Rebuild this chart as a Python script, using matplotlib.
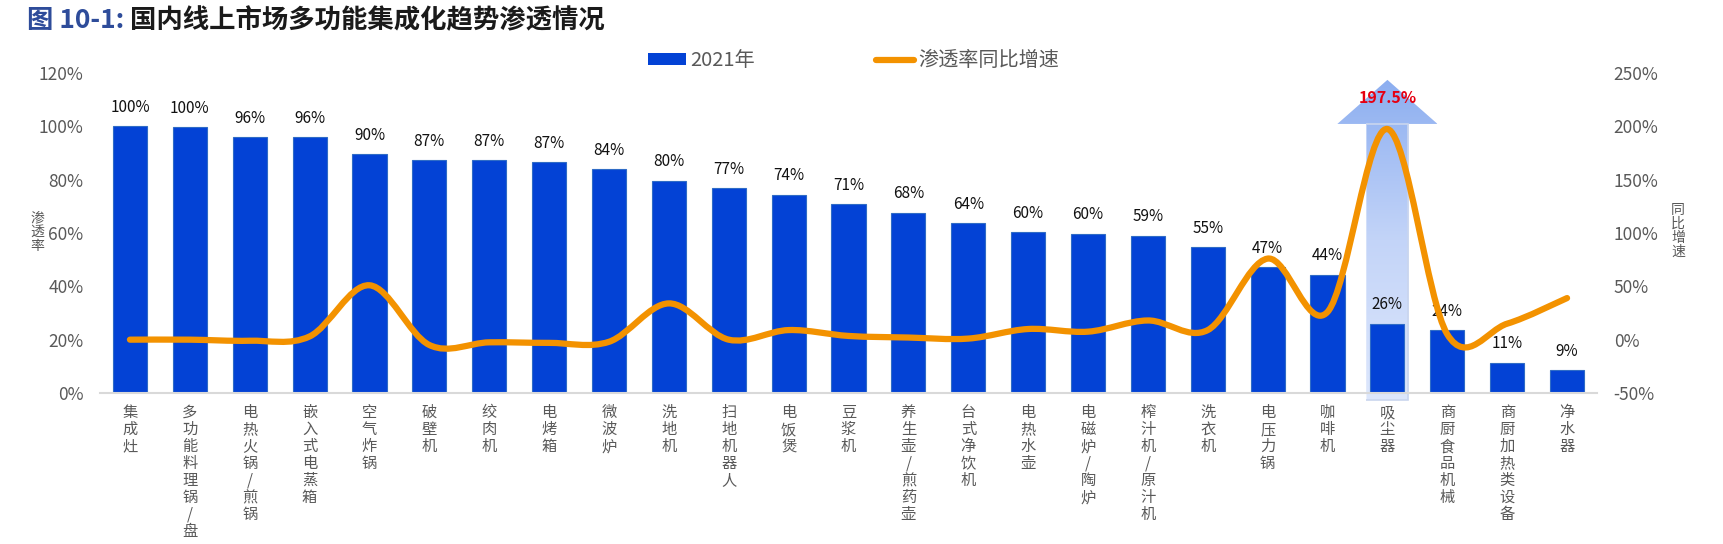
import matplotlib
matplotlib.use('Agg')
import matplotlib.pyplot as plt
import numpy as np
from matplotlib.path import Path
from matplotlib.patches import PathPatch, Polygon, Patch
from matplotlib.lines import Line2D
from matplotlib.ticker import FuncFormatter, MultipleLocator
from matplotlib.colors import LinearSegmentedColormap

plt.rcParams['font.family'] = ['Noto Sans CJK SC', 'DejaVu Sans']
plt.rcParams['axes.unicode_minus'] = False

# ---------------- data ----------------
categories = ['集成灶', '多功能料理锅/盘', '电热火锅/煎锅', '嵌入式电蒸箱', '空气炸锅', '破壁机',
              '绞肉机', '电烤箱', '微波炉', '洗地机', '扫地机器人', '电饭煲', '豆浆机',
              '养生壶/煎药壶', '台式净饮机', '电热水壶', '电磁炉/陶炉', '榨汁机/原汁机',
              '洗衣机', '电压力锅', '咖啡机', '吸尘器', '商厨食品机械', '商厨加热类设备', '净水器']
penetration_2021 = [100.0, 99.6, 95.9, 95.9, 89.6, 87.4, 87.2, 86.6, 83.9, 79.6, 76.7, 74.4, 70.9,
                    67.6, 63.6, 60.4, 59.8, 59.0, 54.6, 47.1, 44.4, 26.0, 23.6, 11.4, 8.6]
yoy_growth = [0, 0, -1, 3, 51, -5, -2.5, -3, -2, 34, 0, 9, 3.5,
              2, 1, 10, 7.5, 18, 9, 76, 26, 197.5, 5, 15, 39]
series_names = ['2021年', '渗透率同比增速']
title_prefix = '图 10-1: '
title_main = '国内线上市场多功能集成化趋势渗透情况'
left_label = '渗透率'
right_label = '同比增速'

# ---------------- style ----------------
BAR_C = '#0342D5'
BAR_EDGE = '#2F6CC6'
LINE_C = '#F39200'
GREY = '#595959'

W, H = 1724, 544
fig = plt.figure(figsize=(W / 100, H / 100), dpi=100)
ax = fig.add_axes([100 / W, 1 - 393 / H, 1497 / W, 320 / H])
ax2 = ax.twinx()

x = np.arange(len(categories))

# highlight arrow behind the max-growth category
hi = int(np.argmax(yoy_growth))
sw, hw = 0.35, 0.835
y_bot, y_base, y_tip = -2.6, 100.9, 117.4
arrow_pts = [(hi - sw, y_bot), (hi + sw, y_bot), (hi + sw, y_base), (hi + hw, y_base),
             (hi, y_tip), (hi - hw, y_base), (hi - sw, y_base)]
base_poly = Polygon(arrow_pts, closed=True, facecolor='#DCE6FB', edgecolor='none',
                    zorder=0.5, clip_on=False)
ax.add_patch(base_poly)
clip_poly = Polygon(arrow_pts, closed=True, facecolor='none', edgecolor='none', zorder=0.5)
ax.add_patch(clip_poly)
grad = np.linspace(0, 1, 256).reshape(-1, 1)
cmap = LinearSegmentedColormap.from_list('arr', ['#DDE7FC', '#C3D4F8', '#8CAEF0'])
im = ax.imshow(grad, extent=(hi - hw, hi + hw, y_bot, y_tip), origin='lower',
               cmap=cmap, aspect='auto', zorder=0.6, interpolation='bilinear')
im.set_clip_path(clip_poly)
outline = Polygon(arrow_pts[:3] + [arrow_pts[6]], closed=False, facecolor='none',
                  edgecolor='#C9D5EE', lw=1.2, zorder=0.7, clip_on=False)
ax.add_patch(outline)

# bars
ax.bar(x, penetration_2021, width=0.57, color=BAR_C, edgecolor=BAR_EDGE,
       linewidth=0.8, zorder=2, label=series_names[0])
for xi, v in zip(x, penetration_2021):
    ax.annotate(f'{v:.0f}%', (xi, v), xytext=(0, 7.5), textcoords='offset points',
                ha='center', va='bottom', fontsize=11, color='#111111', zorder=3)

ax.set_xlim(-0.5, len(categories) - 0.5)
ax.set_ylim(0, 120)
ax.yaxis.set_major_locator(MultipleLocator(20))
ax.yaxis.set_major_formatter(FuncFormatter(lambda v, p: f'{int(round(v))}%'))
ax.set_xticks(x)
ax.set_xticklabels(['\n'.join(list(c)) for c in categories], fontsize=11,
                   color=GREY, va='top', linespacing=1.0)
ax.tick_params(axis='x', length=0, pad=8)
ax.tick_params(axis='y', length=0, pad=12, labelsize=12.5, labelcolor=GREY)

# smooth line (Catmull-Rom style Bezier through the data points)
def smooth_path(xs, ys):
    pts = np.column_stack([xs, ys]).astype(float)
    n = len(pts)
    verts = [pts[0]]
    codes = [Path.MOVETO]
    for i in range(n - 1):
        p0 = pts[i - 1] if i > 0 else pts[i]
        p1 = pts[i]
        p2 = pts[i + 1]
        p3 = pts[i + 2] if i + 2 < n else pts[i + 1]
        c1 = p1 + (p2 - p0) / 6.0
        c2 = p2 - (p3 - p1) / 6.0
        verts += [c1, c2, p2]
        codes += [Path.CURVE4] * 3
    return Path(verts, codes)

line_patch = PathPatch(smooth_path(x, yoy_growth), facecolor='none', edgecolor=LINE_C,
                       lw=4.5, capstyle='round', joinstyle='round', zorder=3)
ax2.add_patch(line_patch)
ax2.set_ylim(-50, 250)
ax2.yaxis.set_major_locator(MultipleLocator(50))
ax2.yaxis.set_major_formatter(FuncFormatter(lambda v, p: f'{int(round(v))}%'))
ax2.tick_params(axis='y', length=0, pad=12, labelsize=12.5, labelcolor=GREY)

# peak label
ax.text(hi, 110.6, f'{yoy_growth[hi]}%', ha='center', va='center', fontsize=11.5,
        fontweight='bold', color='#E60012', zorder=5)

for a in (ax, ax2):
    for s in ('top', 'left', 'right', 'bottom'):
        a.spines[s].set_visible(False)
    a.set_facecolor('none')
ax.spines['bottom'].set_visible(True)
ax.spines['bottom'].set_color('#D9D9D9')
ax.spines['bottom'].set_linewidth(1.5)
ax.spines['bottom'].set_zorder(4)

# axis titles (vertical stacked)
fig.text(37 / W, 1 - 232 / H, '\n'.join(left_label), ha='center', va='center',
         fontsize=10, color=GREY, linespacing=1.0)
fig.text(1678 / W, 1 - 231 / H, '\n'.join(right_label), ha='center', va='center',
         fontsize=10, color=GREY, linespacing=1.0)

# legend
handles = [Patch(facecolor=BAR_C, edgecolor='none'),
           Line2D([0], [0], color=LINE_C, lw=4.5, solid_capstyle='round')]
fig.legend(handles, series_names, loc='center', bbox_to_anchor=(0.495, 1 - 61 / H),
           ncol=2, frameon=False, fontsize=14.5, labelcolor=GREY, handlelength=1.9,
           handleheight=0.55, handletextpad=0.2, columnspacing=6)

# title
t1 = fig.text(27 / W, 1 - 21 / H, title_prefix, ha='left', va='center', fontsize=19,
              fontweight='bold', color='#2E4C9A')
fig.canvas.draw()
bb = t1.get_window_extent()
fig.text(bb.x1 / fig.bbox.width, 1 - 21 / H, title_main, fontsize=19, fontweight='bold',
         color='#1A1A1A', ha='left', va='center')

fig.savefig('out.png', dpi=100)
